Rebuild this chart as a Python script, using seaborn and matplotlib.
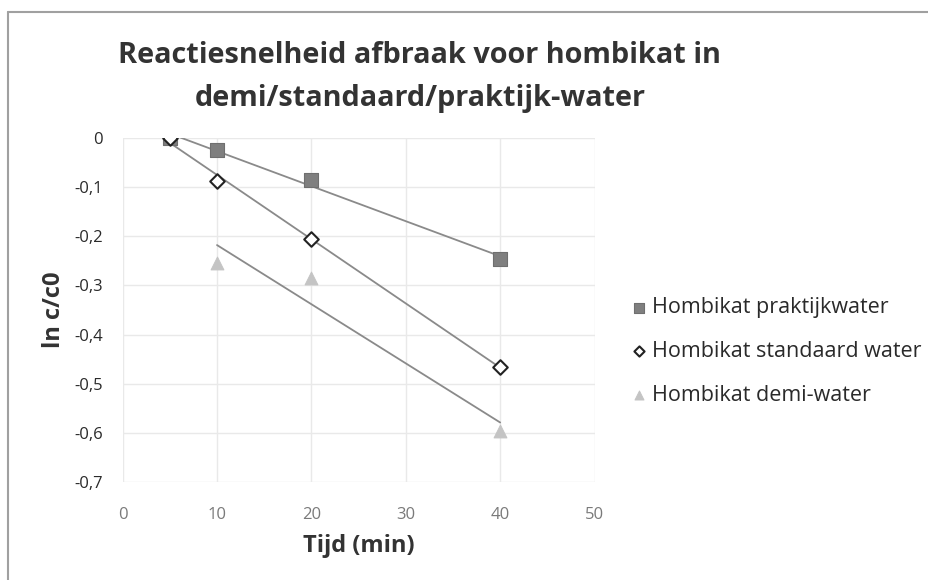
import numpy as np
import pandas as pd
import matplotlib
matplotlib.use("Agg")
import matplotlib.pyplot as plt
from matplotlib.lines import Line2D
from matplotlib.ticker import FuncFormatter
import seaborn as sns

# data
tijd_praktijk = [5, 10, 20, 40]
ln_praktijk = [0.0, -0.024, -0.086, -0.246]
tijd_standaard = [5, 10, 20, 40]
ln_standaard = [0.0, -0.087, -0.205, -0.466]
tijd_demi = [10, 20, 40]
ln_demi = [-0.254, -0.284, -0.597]

series_names = ["Hombikat praktijkwater", "Hombikat standaard water", "Hombikat demi-water"]
x_ticks = [0, 10, 20, 30, 40, 50]
y_ticks = [0, -0.1, -0.2, -0.3, -0.4, -0.5, -0.6, -0.7]

sns.set_style("white")
plt.rcParams['font.family'] = ['Open Sans', 'DejaVu Sans']

fig = plt.figure(figsize=(9.29, 5.80), dpi=100)
ax = fig.add_axes([0.132, 0.169, 0.508, 0.593])

line_kw = dict(color="#8a8a8a", linewidth=1.3)

series = [
    (tijd_praktijk, ln_praktijk, dict(marker="s", s=90, color="#7f7f7f", edgecolor="#6f6f6f", linewidth=0.8)),
    (tijd_standaard, ln_standaard, dict(marker="D", s=55, facecolor="white", edgecolor="#222222", linewidth=1.5)),
    (tijd_demi, ln_demi, dict(marker="^", s=85, color="#c4c4c4", edgecolor="#c4c4c4")),
]

for (xs, ys, mkw), name in zip(series, series_names):
    df = pd.DataFrame({"x": xs, "y": ys})
    # linear trendline, as in the original spreadsheet chart
    sns.regplot(data=df, x="x", y="y", ax=ax, scatter=False, ci=None,
                truncate=True, line_kws=line_kw)
    sns.scatterplot(data=df, x="x", y="y", ax=ax, zorder=3, label=name, **mkw)

ax.set_xlim(0, 50)
ax.set_ylim(-0.7, 0)
ax.set_xticks(x_ticks)
ax.set_yticks(y_ticks)
ax.yaxis.set_major_formatter(FuncFormatter(lambda v, p: "0" if abs(v) < 1e-9 else f"{v:.1f}".replace(".", ",")))
ax.grid(True, color="#e9e9e9", linewidth=1.0)
for sp in ax.spines.values():
    sp.set_visible(False)
ax.tick_params(axis="x", labelsize=12, labelcolor="#7a7a7a", pad=18, length=0)
ax.tick_params(axis="y", labelsize=12, labelcolor="#2a2a2a", pad=14, length=0)
ax.set_xlabel("Tijd (min)", fontsize=17, fontweight="bold", color="#333333", labelpad=8)
ax.set_ylabel("ln c/c0", fontsize=17, fontweight="bold", color="#333333", labelpad=6)

leg = ax.legend(loc="upper left", bbox_to_anchor=(1.03, 0.593), frameon=False,
                fontsize=15.5, labelspacing=1.05, handletextpad=0.1, handlelength=1.0,
                markerscale=0.7, labelcolor="#2a2a2a")

fig.text(0.452, 0.905, "Reactiesnelheid afbraak voor hombikat in", ha="center", va="center",
         fontsize=20.8, fontweight="bold", color="#333333")
fig.text(0.452, 0.830, "demi/standaard/praktijk-water", ha="center", va="center",
         fontsize=20.8, fontweight="bold", color="#333333")

# chart frame
fig.add_artist(Line2D([0.009, 0.009], [0.0, 0.979], color="#a0a0a0", linewidth=1.5, transform=fig.transFigure))
fig.add_artist(Line2D([0.009, 1.0], [0.979, 0.979], color="#a0a0a0", linewidth=1.5, transform=fig.transFigure))

fig.savefig("out.png", dpi=100)
